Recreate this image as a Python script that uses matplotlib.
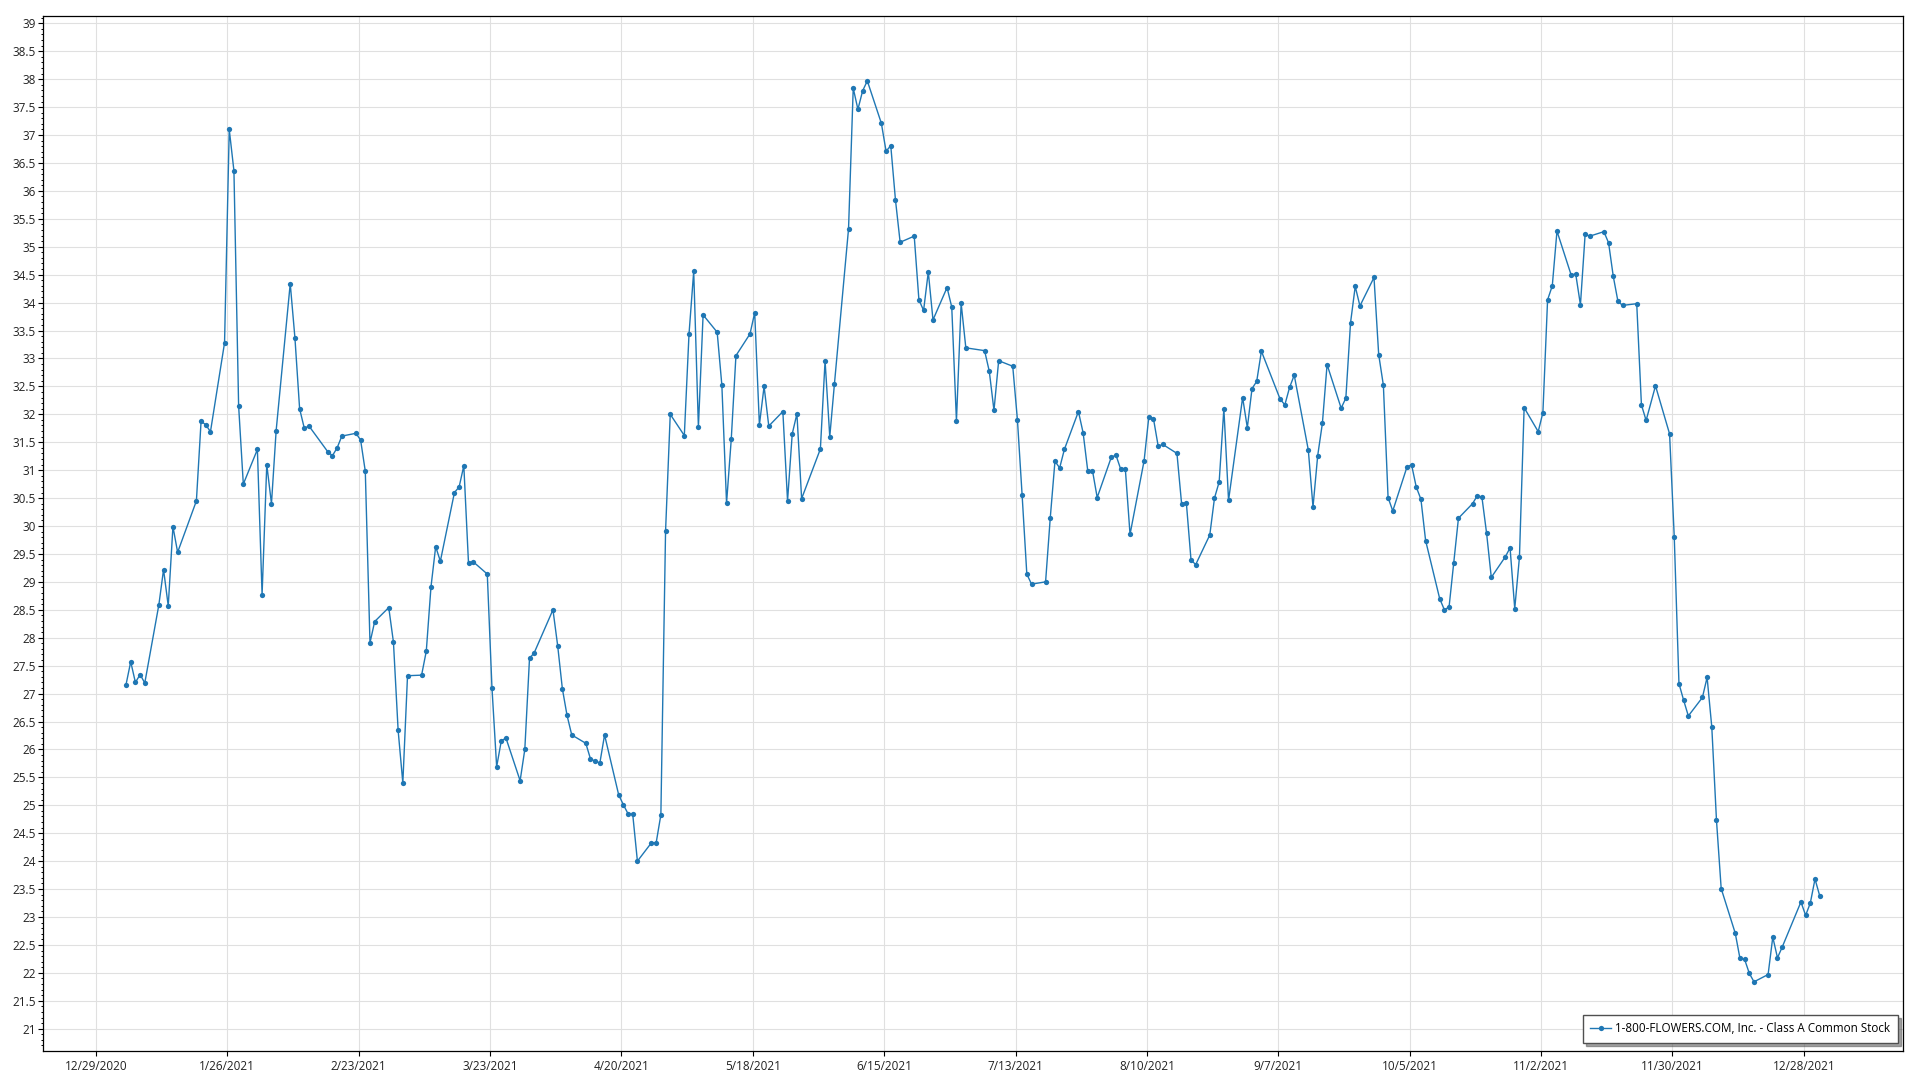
import numpy as np
import pandas as pd
import matplotlib
matplotlib.use("Agg")
import matplotlib.pyplot as plt
import matplotlib.dates as mdates
from matplotlib.ticker import MultipleLocator, FixedLocator, FuncFormatter, FixedFormatter

series_name = "1-800-FLOWERS.COM, Inc. - Class A Common Stock"

market_holidays = ["2021-01-01", "2021-01-18", "2021-02-15", "2021-04-02", "2021-05-31",
                   "2021-07-05", "2021-09-06", "2021-11-25", "2021-12-24"]
# sample timestamps: each trading day at the 9:30 market open
trade_dates = (pd.bdate_range("2021-01-04", "2021-12-31", freq="C", holidays=market_holidays)
               + pd.Timedelta(hours=9, minutes=30))

jan = [27.16, 27.57, 27.20, 27.34, 27.19, 28.59, 29.22, 28.57, 29.99, 29.53, 30.45, 31.88, 31.81,
       31.69, 33.28, 37.10, 36.36, 32.15, 30.75]
feb = [31.37, 28.77, 31.10, 30.40, 31.71, 34.34, 33.37, 32.10, 31.75, 31.79, 31.33, 31.26, 31.40,
       31.61, 31.66, 31.54, 30.98, 27.91, 28.29]
mar = [28.54, 27.92, 26.34, 25.40, 27.32, 27.33, 27.76, 28.91, 29.63, 29.37, 30.60, 30.70, 31.08,
       29.33, 29.36, 29.14, 27.10, 25.69, 26.16, 26.20, 25.44, 26.00, 27.63]
apr = [27.73, 28.50, 27.86, 27.09, 26.61, 26.26, 26.11, 25.83, 25.79, 25.76, 26.26, 25.19, 25.01,
       24.85, 24.84, 24.00, 24.33, 24.33, 24.83, 29.91, 32.00]
may = [31.62, 33.44, 34.56, 31.77, 33.78, 33.47, 32.52, 30.41, 31.55, 33.05, 33.44, 33.82, 31.81,
       32.50, 31.79, 32.05, 30.45, 31.65, 32.01, 30.49]
jun = [31.38, 32.96, 31.60, 32.55, 35.32, 37.84, 37.46, 37.79, 37.97, 37.21, 36.71, 36.81, 35.84,
       35.08, 35.19, 34.05, 33.86, 34.55, 33.69, 34.27, 33.92, 31.88]
jul = [33.99, 33.19, 33.14, 32.77, 32.07, 32.96, 32.86, 31.90, 30.55, 29.14, 28.96, 29.00, 30.15,
       31.16, 31.04, 31.37, 32.05, 31.67, 30.98, 30.99, 30.51]
aug = [31.23, 31.27, 31.02, 31.02, 29.85, 31.17, 31.95, 31.92, 31.43, 31.46, 31.30, 30.39, 30.42,
       29.39, 29.31, 29.84, 30.50, 30.79, 32.10, 30.46, 32.30, 31.76]
sep = [32.46, 32.59, 33.13, 32.27, 32.17, 32.48, 32.70, 31.36, 30.34, 31.26, 31.84, 32.89, 32.11,
       32.29, 33.64, 34.29, 33.94, 34.45, 33.07, 32.52, 30.51]
oct_ = [30.27, 31.05, 31.10, 30.70, 30.48, 29.74, 28.70, 28.50, 28.55, 29.34, 30.14, 30.40, 30.54,
        30.52, 29.87, 29.08, 29.45, 29.61, 28.52, 29.44, 32.12]
nov = [31.69, 32.03, 34.05, 34.30, 35.28, 34.50, 34.51, 33.96, 35.22, 35.19, 35.27, 35.07, 34.47,
       34.02, 33.95, 33.98, 32.17, 31.89, 32.51, 31.65, 29.80]
dec = [27.18, 26.88, 26.60, 26.93, 27.29, 26.40, 24.73, 23.51, 22.71, 22.26, 22.24, 21.99, 21.84,
       21.97, 22.64, 22.27, 22.46, 23.27, 23.03, 23.25, 23.68, 23.38]

prices = jan + feb + mar + apr + may + jun + jul + aug + sep + oct_ + nov + dec
assert len(prices) == len(trade_dates), (len(prices), len(trade_dates))

x_tick_dates = pd.date_range("2020-12-29", periods=14, freq="28D")
x_tick_labels = [f"{d.month}/{d.day}/{d.year}" for d in x_tick_dates]

plt.rcParams["font.family"] = ["Open Sans", "DejaVu Sans"]

W, H = 1920, 1080
fig = plt.figure(figsize=(W / 100, H / 100), dpi=100)
ax = fig.add_axes([43 / W, 1 - 1050.5 / H, (1903 - 43) / W, (1050.5 - 15.5) / H])

line_color = "#1f77b4"
ax.plot(mdates.date2num(trade_dates), prices, color=line_color, lw=1.0, marker="o",
        markersize=3.8, markeredgewidth=0, label=series_name, zorder=3)

x0 = mdates.date2num(pd.Timestamp("2020-12-29")) - 11.3
x1 = mdates.date2num(pd.Timestamp("2021-12-28")) + 21.15
ax.set_xlim(x0, x1)
ax.set_ylim(20.61, 39.14)

ax.xaxis.set_major_locator(FixedLocator(mdates.date2num(x_tick_dates)))
ax.xaxis.set_major_formatter(FixedFormatter(x_tick_labels))
ax.yaxis.set_major_locator(MultipleLocator(0.5))
ax.yaxis.set_minor_locator(MultipleLocator(0.1))
ax.yaxis.set_major_formatter(FuncFormatter(lambda v, p: f"{v:g}"))

ax.tick_params(axis="both", which="major", direction="out", length=3.5, width=0.8,
               colors="black", labelcolor="#222222", labelsize=8.5)
ax.tick_params(axis="y", which="major", pad=1.5)
ax.tick_params(axis="x", which="major", pad=3)
ax.tick_params(axis="y", which="minor", direction="out", length=1.8, width=0.7, colors="black")

ax.grid(which="major", color="#e0e0e0", lw=0.8, zorder=0)
ax.set_axisbelow(True)
for s in ax.spines.values():
    s.set_color("black")
    s.set_linewidth(0.9)

leg = ax.legend(loc="lower right", bbox_to_anchor=(1898 / W, 1 - 1043 / H),
                bbox_transform=fig.transFigure, borderaxespad=0, frameon=True,
                fancybox=False, shadow=True, framealpha=1, edgecolor="#505050",
                fontsize=8.4, handlelength=1.8, handletextpad=0.35, borderpad=0.65)
leg.get_frame().set_linewidth(1.0)

fig.savefig("out.png", dpi=100, facecolor="white")
